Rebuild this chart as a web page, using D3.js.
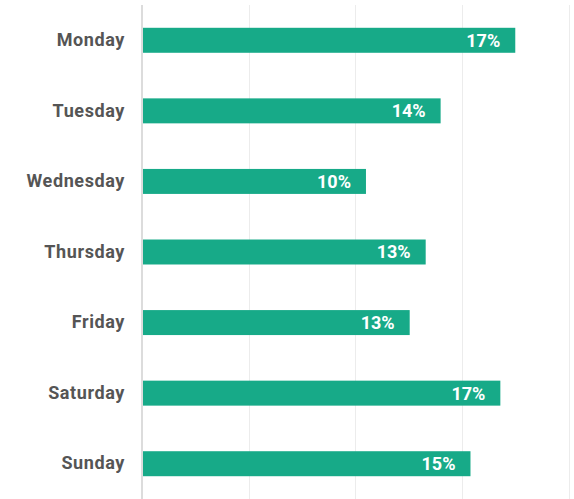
<!DOCTYPE html>
<html>
<head>
<meta charset="utf-8">
<script src="https://cdn.jsdelivr.net/npm/d3@7"></script>
<style>
  body { margin: 0; background: #fff; }
  svg { display: block; }
</style>
</head>
<body>
<svg width="574" height="499"></svg>
<script>
// data
const days = ['Monday', 'Tuesday', 'Wednesday', 'Thursday', 'Friday', 'Saturday', 'Sunday'];
const shares = [17.5, 14.0, 10.5, 13.3, 12.55, 16.8, 15.4];
const shareLabels = ['17%', '14%', '10%', '13%', '13%', '17%', '15%'];
const gridTicks = [5, 10, 15, 20];

const svg = d3.select('svg');
const chartTop = 5, chartBottom = 499, chartLeft = 142, chartRight = 568.6;

const x = d3.scaleLinear().domain([0, 20]).range([chartLeft, chartRight]);
const y = d3.scaleBand().domain(days).range([chartTop, chartBottom])
  .paddingInner(0.646).paddingOuter(0.323);

// grid lines
svg.append('g').selectAll('line')
  .data(gridTicks)
  .enter().append('line')
    .attr('x1', d => Math.round(x(d)) + 0.5)
    .attr('x2', d => Math.round(x(d)) + 0.5)
    .attr('y1', chartTop)
    .attr('y2', chartBottom)
    .attr('stroke', '#ececec')
    .attr('stroke-width', 1);

// bars
const rows = days.map((d, i) => ({day: d, value: shares[i], label: shareLabels[i]}));

svg.append('g').selectAll('rect')
  .data(rows)
  .enter().append('rect')
    .attr('x', x(0) + 1)
    .attr('y', d => y(d.day))
    .attr('width', d => x(d.value) - x(0) - 1)
    .attr('height', y.bandwidth())
    .attr('fill', '#17aa88');

// value labels
svg.append('g').selectAll('text')
  .data(rows)
  .enter().append('text')
    .attr('x', d => x(d.value) - 15)
    .attr('y', d => y(d.day) + y.bandwidth() / 2)
    .attr('dy', '0.36em')
    .attr('text-anchor', 'end')
    .attr('fill', '#fff')
    .style('font', 'bold 18px Roboto, sans-serif')
    .text(d => d.label);

// y axis via d3.axisLeft, styled to match
const yAxis = svg.append('g')
  .attr('transform', `translate(${chartLeft},0)`)
  .call(d3.axisLeft(y).tickSize(0).tickPadding(17));

yAxis.select('.domain').remove();
yAxis.selectAll('text')
  .attr('fill', '#555')
  .style('font', 'bold 18px Roboto, sans-serif')
  .style('letter-spacing', '0.6px');

// axis line
svg.append('line')
  .attr('x1', chartLeft)
  .attr('x2', chartLeft)
  .attr('y1', chartTop)
  .attr('y2', chartBottom)
  .attr('stroke', '#dcdcdc')
  .attr('stroke-width', 2);
</script>
</body>
</html>
